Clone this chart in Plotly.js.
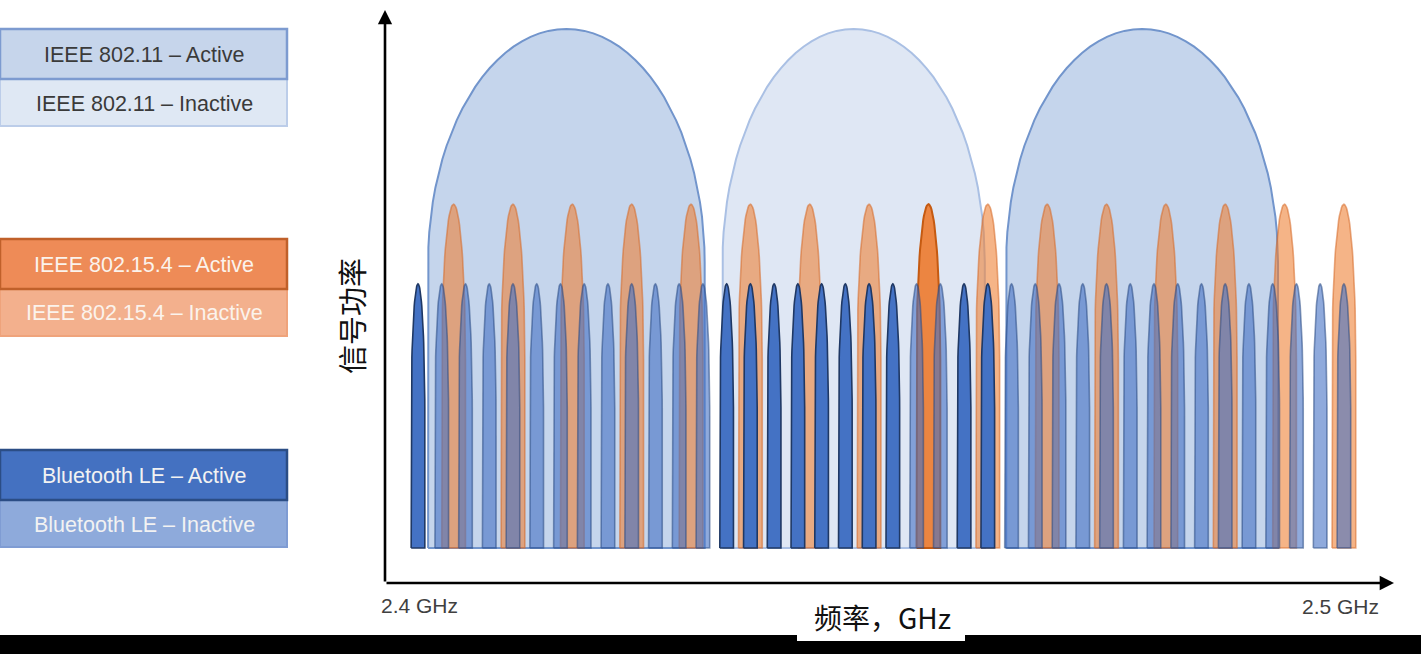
<!DOCTYPE html>
<html>
<head>
<meta charset="utf-8">
<script src="https://cdn.plot.ly/plotly-3.0.1.min.js"></script>
<style>html,body{margin:0;padding:0;background:#fff;}#chart{width:1421px;height:654px;}</style>
</head>
<body>
<div id="chart"></div>
<script>
// ---------------- DATA ----------------
// Bluetooth LE channel centre frequencies (MHz) and status (1 = active)
const bleFreqs = [2402, 2404, 2406, 2408, 2410, 2412, 2414, 2416, 2418, 2420,
                  2422, 2424, 2426, 2428, 2430, 2432, 2434, 2436, 2438, 2440,
                  2442, 2444, 2446, 2448, 2450, 2452, 2454, 2456, 2458, 2460,
                  2462, 2464, 2466, 2468, 2470, 2472, 2474, 2476, 2478, 2480];
const bleActive = [1, 0, 0, 0, 0, 0, 0, 0, 0, 0,
                   0, 0, 0, 1, 1, 1, 1, 1, 1, 1,
                   1, 0, 0, 1, 1, 0, 0, 0, 0, 0,
                   0, 0, 0, 0, 0, 0, 0, 0, 0, 0];
const bleWidth = 1.15;      // MHz
const bleLevel = 52.2;      // signal power (arb. units)

// IEEE 802.15.4 channel centre frequencies (MHz) and status
const zbFreqs  = [2405, 2410, 2415, 2420, 2425, 2430, 2435, 2440,
                  2445, 2450, 2455, 2460, 2465, 2470, 2475, 2480];
const zbActive = [0, 0, 0, 0, 0, 0, 0, 0, 1, 0, 0, 0, 0, 0, 0, 0];
const zbWidth = 2.0;
const zbLevel = 66.1;

// IEEE 802.11 channels
const wifiCenters = [2414.5, 2438.7, 2463.0];
const wifiWidths  = [23.3, 22.1, 22.9];
const wifiActive  = [1, 0, 1];
const wifiLevel = 96.7;

const baseLevel = 6.1;

// legend / labels
const legendLabels = ['IEEE 802.11 – Active', 'IEEE 802.11 – Inactive',
                      'IEEE 802.15.4 – Active', 'IEEE 802.15.4 – Inactive',
                      'Bluetooth LE – Active', 'Bluetooth LE – Inactive'];
const axisEndLabels = ['2.4 GHz', '2.5 GHz'];
const xTitle = '频率，GHz';
const yTitle = '信号功率';

// ---------------- STYLE ----------------
const st = {
  wifiA:  {fill: '#c5d5ec', line: '#7295cc', w: 2},
  wifiI:  {fill: '#dfe7f4', line: '#aac0e4', w: 2},
  zbA:    {fill: 'rgba(237,125,49,0.92)', line: '#c55a11', w: 2},
  zbI:    {fill: 'rgba(237,125,49,0.58)', line: 'rgba(214,105,40,0.55)', w: 1.6},
  bleA:   {fill: '#4472c4', line: '#1f3864', w: 1.6},
  bleI:   {fill: 'rgba(68,114,196,0.6)', line: 'rgba(40,72,130,0.55)', w: 1.6}
};
const legendStyle = [
  {fill: '#c6d5eb', line: '#7d9bd0', w: 2.5, text: '#3a3a3a'},
  {fill: '#dfe8f4', line: '#bccde9', w: 2,   text: '#3a3a3a'},
  {fill: '#ee8b57', line: '#c0602a', w: 2.5, text: '#fbf3ec'},
  {fill: '#f3b08d', line: '#efa37b', w: 2,   text: '#fbf3ec'},
  {fill: '#4471c1', line: '#2b4d85', w: 2.5, text: '#f2f2f2'},
  {fill: '#8eaadb', line: '#7f9cd3', w: 2,   text: '#f2f2f2'}
];
const legendBoxesPx = [[29, 79], [79, 126], [239, 289], [289, 336], [450, 500], [500, 547]];

// ---------------- GEOMETRY ----------------
const W = 1421, H = 654;
const M = {l: 385, r: 27, t: 10, b: 71};
const PW = W - M.l - M.r, PH = H - M.t - M.b;
const px2x = p => (p - M.l) / PW;
const py2y = p => (H - M.b - p) / PH;

function capOutline(c, width, base, top, sideFrac) {
  const hw = width / 2;
  const ySide = base + sideFrac * (top - base);
  const xs = [c - hw], ys = [base];
  const n = 48;
  for (let i = 0; i <= n; i++) {
    const th = Math.PI - Math.PI * i / n;
    xs.push(c + hw * Math.cos(th));
    ys.push(ySide + (top - ySide) * Math.sin(th));
  }
  xs.push(c + hw, c - hw);
  ys.push(base, base);
  return {xs, ys};
}

const traces = [];
function addShape(c, width, top, frac, s) {
  const o = capOutline(c, width, baseLevel, top, frac);
  traces.push({
    type: 'scatter', mode: 'lines', x: o.xs, y: o.ys,
    fill: 'toself', fillcolor: s.fill,
    line: {color: s.line, width: s.w}, hoverinfo: 'skip', showlegend: false
  });
}

wifiCenters.forEach((c, i) => addShape(c, wifiWidths[i], wifiLevel, 0.55, wifiActive[i] ? st.wifiA : st.wifiI));
zbFreqs.forEach((c, i) => addShape(c, zbWidth, zbLevel, 0.55, zbActive[i] ? st.zbA : st.zbI));
bleFreqs.forEach((c, i) => addShape(c, bleWidth, bleLevel, 0.5, bleActive[i] ? st.bleA : st.bleI));

// ---------------- LAYOUT ----------------
const shapes = [];
const annotations = [];

// legend boxes (inactive drawn first so active border sits on top)
[1, 0, 3, 2, 5, 4].forEach(i => {
  const s = legendStyle[i], b = legendBoxesPx[i];
  shapes.push({type: 'rect', xref: 'paper', yref: 'paper',
    x0: px2x(0), x1: px2x(287), y0: py2y(b[1]), y1: py2y(b[0]),
    fillcolor: s.fill, line: {color: s.line, width: s.w}});
});
legendLabels.forEach((t, i) => {
  const b = legendBoxesPx[i];
  annotations.push({xref: 'paper', yref: 'paper', x: px2x(144), y: py2y((b[0] + b[1]) / 2 + 1),
    text: t, showarrow: false, xanchor: 'center', yanchor: 'middle',
    font: {family: 'Liberation Sans, Arial, sans-serif', size: 21.5, color: legendStyle[i].text}});
});

// black strip at the bottom and white label box
shapes.push({type: 'rect', xref: 'paper', yref: 'paper',
  x0: px2x(-5), x1: px2x(W + 5), y0: py2y(H + 10), y1: py2y(635),
  fillcolor: '#000', line: {width: 0}});
shapes.push({type: 'rect', xref: 'paper', yref: 'paper',
  x0: px2x(797), x1: px2x(965), y0: py2y(641), y1: py2y(598),
  fillcolor: '#fff', line: {width: 0}});

// axes arrows
annotations.push({xref: 'paper', yref: 'paper', x: 1, y: 0, ax: -PW, ay: 0,
  showarrow: true, arrowhead: 2, arrowsize: 1.1, arrowwidth: 2.6, arrowcolor: '#000', standoff: 0, text: ''});
annotations.push({xref: 'paper', yref: 'paper', x: 0, y: 1, ax: 0, ay: PH,
  showarrow: true, arrowhead: 2, arrowsize: 1.1, arrowwidth: 2.6, arrowcolor: '#000', standoff: 0, text: ''});

// axis end labels
annotations.push({xref: 'paper', yref: 'paper', x: px2x(379), y: py2y(605), text: axisEndLabels[0],
  showarrow: false, xanchor: 'left', yanchor: 'middle',
  font: {family: 'Liberation Sans, Arial, sans-serif', size: 21, color: '#404040'}});
annotations.push({xref: 'paper', yref: 'paper', x: px2x(1381), y: py2y(606), text: axisEndLabels[1],
  showarrow: false, xanchor: 'right', yanchor: 'middle',
  font: {family: 'Liberation Sans, Arial, sans-serif', size: 21, color: '#404040'}});

// titles
annotations.push({xref: 'paper', yref: 'paper', x: px2x(882), y: py2y(617), text: xTitle,
  showarrow: false, xanchor: 'center', yanchor: 'middle',
  font: {family: 'Noto Sans CJK SC, sans-serif', size: 28, color: '#111'}});
annotations.push({xref: 'paper', yref: 'paper', x: px2x(351), y: py2y(316), text: yTitle,
  showarrow: false, xanchor: 'center', yanchor: 'middle', textangle: -90,
  font: {family: 'Noto Sans CJK SC, sans-serif', size: 29, color: '#111'}});

const layout = {
  width: W, height: H, margin: M,
  paper_bgcolor: '#fff', plot_bgcolor: '#fff', showlegend: false,
  xaxis: {range: [2399.22, 2484.22], visible: false, fixedrange: true},
  yaxis: {range: [0, 100], visible: false, fixedrange: true},
  shapes, annotations
};

Plotly.newPlot('chart', traces, layout, {displayModeBar: false, staticPlot: true});
</script>
</body>
</html>
